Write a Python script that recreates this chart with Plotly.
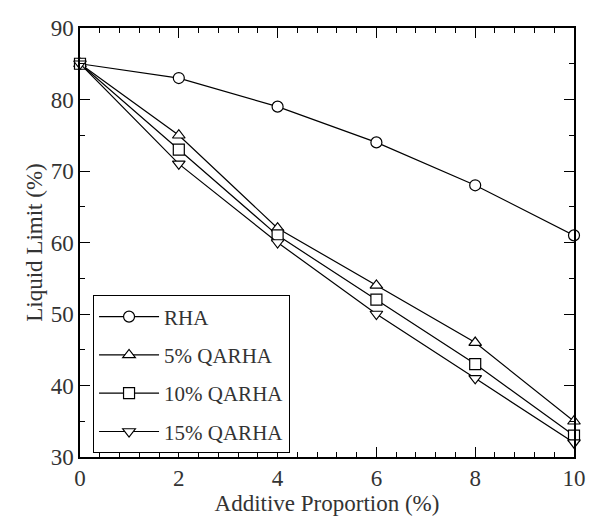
import plotly.graph_objects as go

x_vals = [0, 2, 4, 6, 8, 10]
rha = [85, 83, 79, 74, 68, 61]
qarha5 = [85, 75, 62, 54, 46, 35]
qarha10 = [85, 73, 61, 52, 43, 33]
qarha15 = [85, 71, 60, 50, 41, 32]

series = [
    ("RHA", rha, "circle"),
    ("5% QARHA", qarha5, "triangle-up"),
    ("10% QARHA", qarha10, "square"),
    ("15% QARHA", qarha15, "triangle-down"),
]

FONT = "Liberation Serif, Times New Roman, serif"
fig = go.Figure()
for i, (name, ys, sym) in enumerate(series):
    fig.add_trace(go.Scatter(
        x=x_vals, y=ys, mode="lines+markers", name=name,
        legendgroup=f"g{i}",
        line=dict(color="black", width=1.2),
        marker=dict(symbol=sym, size=11, color="white",
                    line=dict(color="black", width=1.2)),
        cliponaxis=False,
    ))

axis_common = dict(
    showline=True, linecolor="black", linewidth=1.5, mirror="ticks",
    ticks="inside", ticklen=10, tickwidth=1.2, tickcolor="black",
    showgrid=False, zeroline=False,
    tickfont=dict(family=FONT, size=23, color="#333"),
)
fig.update_xaxes(
    range=[0, 10], dtick=2, tick0=0,
    minor=dict(dtick=0.4, ticks="inside", ticklen=5, tickcolor="black", tickwidth=1.2, showgrid=False),
    title=dict(text="Additive Proportion (%)", font=dict(family=FONT, size=23, color="#333"), standoff=4),
    **axis_common,
)
fig.update_yaxes(
    range=[30, 90], dtick=10, tick0=30,
    minor=dict(dtick=5, ticks="inside", ticklen=5, tickcolor="black", tickwidth=1.2, showgrid=False),
    title=dict(text="Liquid Limit (%)", font=dict(family=FONT, size=23, color="#333"), standoff=2),
    **axis_common,
)
fig.update_layout(
    width=598, height=523,
    margin=dict(l=80, r=13, t=28, b=63),
    plot_bgcolor="white", paper_bgcolor="white",
    legend=dict(
        x=0.026, y=0.377, xanchor="left", yanchor="top",
        bordercolor="black", borderwidth=1.2, bgcolor="white",
        font=dict(family=FONT, size=21, color="#333"),
        tracegroupgap=8, itemwidth=60,
    ),
)
fig.write_html("out.html")
